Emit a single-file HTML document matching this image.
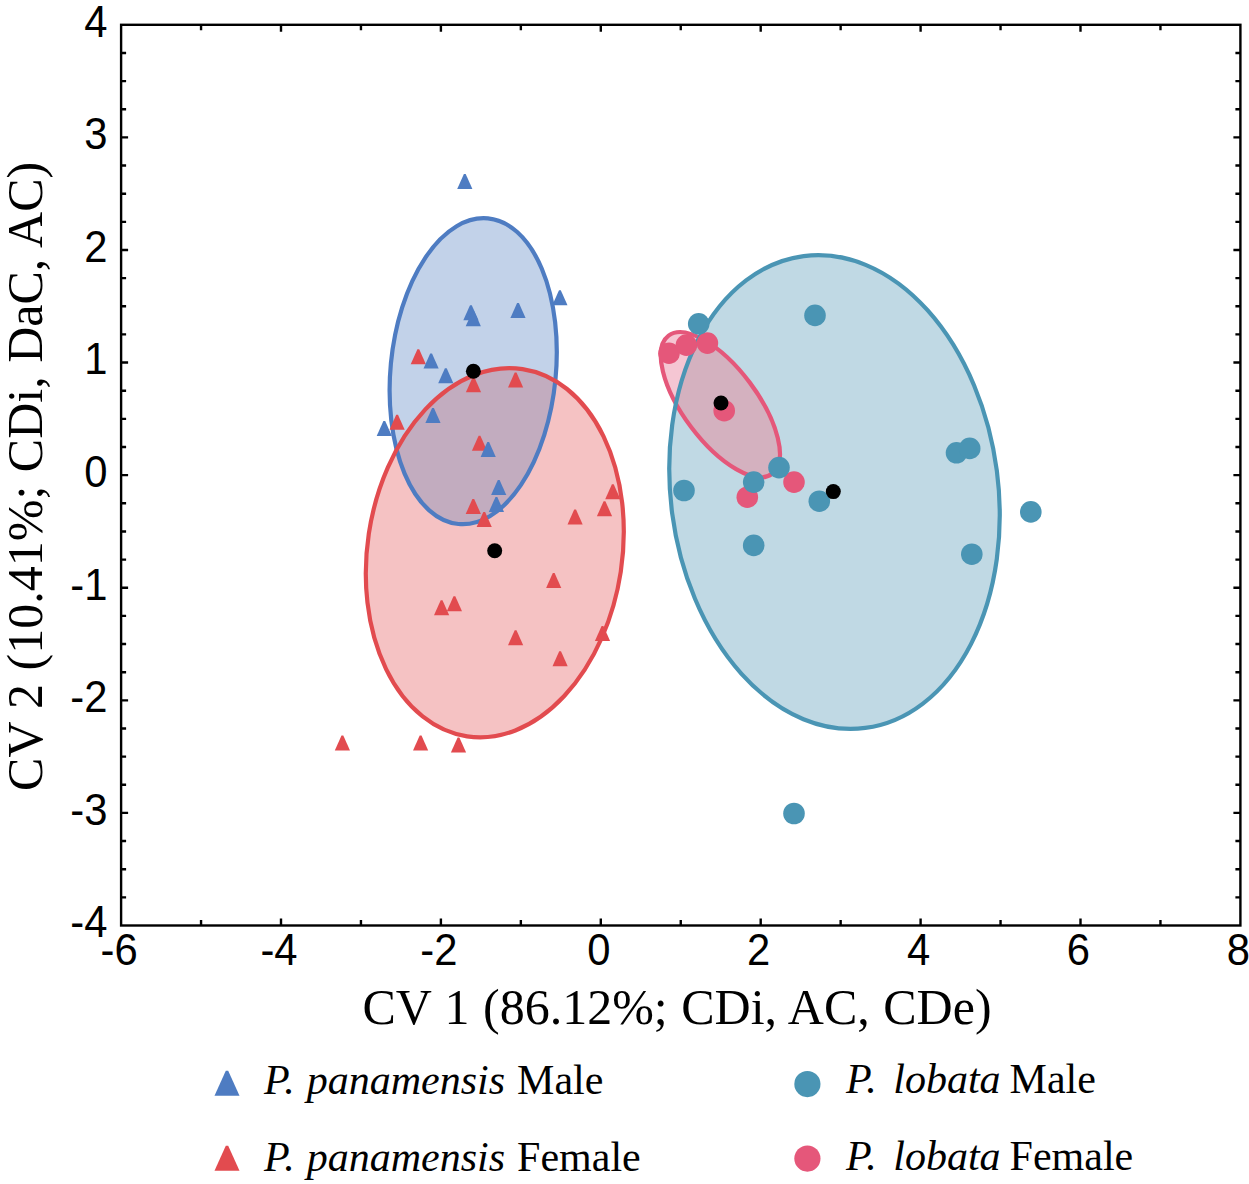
<!DOCTYPE html>
<html><head><meta charset="utf-8"><style>
html,body{margin:0;padding:0;background:#fff;width:1249px;height:1184px;overflow:hidden}
svg{display:block}
</style></head><body>
<svg width="1249" height="1184" viewBox="0 0 1249 1184">
<rect x="121.1" y="24.8" width="1119.3" height="900.7" fill="none" stroke="#000" stroke-width="2.4"/>
<path d="M201.05 925.5V920.0M201.05 24.8V30.3M281.00 925.5V918.5M281.00 24.8V31.8M360.95 925.5V920.0M360.95 24.8V30.3M440.90 925.5V918.5M440.90 24.8V31.8M520.85 925.5V920.0M520.85 24.8V30.3M600.80 925.5V918.5M600.80 24.8V31.8M680.75 925.5V920.0M680.75 24.8V30.3M760.70 925.5V918.5M760.70 24.8V31.8M840.65 925.5V920.0M840.65 24.8V30.3M920.60 925.5V918.5M920.60 24.8V31.8M1000.55 925.5V920.0M1000.55 24.8V30.3M1080.50 925.5V918.5M1080.50 24.8V31.8M1160.45 925.5V920.0M1160.45 24.8V30.3M121.1 897.35H126.1M1240.4 897.35H1235.4M121.1 869.21H126.1M1240.4 869.21H1235.4M121.1 841.06H126.1M1240.4 841.06H1235.4M121.1 812.91H128.1M1240.4 812.91H1233.4M121.1 784.77H126.1M1240.4 784.77H1235.4M121.1 756.62H126.1M1240.4 756.62H1235.4M121.1 728.47H126.1M1240.4 728.47H1235.4M121.1 700.33H128.1M1240.4 700.33H1233.4M121.1 672.18H126.1M1240.4 672.18H1235.4M121.1 644.03H126.1M1240.4 644.03H1235.4M121.1 615.88H126.1M1240.4 615.88H1235.4M121.1 587.74H128.1M1240.4 587.74H1233.4M121.1 559.59H126.1M1240.4 559.59H1235.4M121.1 531.44H126.1M1240.4 531.44H1235.4M121.1 503.30H126.1M1240.4 503.30H1235.4M121.1 475.15H128.1M1240.4 475.15H1233.4M121.1 447.00H126.1M1240.4 447.00H1235.4M121.1 418.86H126.1M1240.4 418.86H1235.4M121.1 390.71H126.1M1240.4 390.71H1235.4M121.1 362.56H128.1M1240.4 362.56H1233.4M121.1 334.42H126.1M1240.4 334.42H1235.4M121.1 306.27H126.1M1240.4 306.27H1235.4M121.1 278.12H126.1M1240.4 278.12H1235.4M121.1 249.97H128.1M1240.4 249.97H1233.4M121.1 221.83H126.1M1240.4 221.83H1235.4M121.1 193.68H126.1M1240.4 193.68H1235.4M121.1 165.53H126.1M1240.4 165.53H1235.4M121.1 137.39H128.1M1240.4 137.39H1233.4M121.1 109.24H126.1M1240.4 109.24H1235.4M121.1 81.09H126.1M1240.4 81.09H1235.4M121.1 52.95H126.1M1240.4 52.95H1235.4" stroke="#000" stroke-width="2.4" fill="none"/>
<defs><clipPath id="cb"><ellipse cx="473.20" cy="371.20" rx="153.50" ry="82.67" transform="rotate(95.51 473.20 371.20)"/></clipPath><clipPath id="ct"><ellipse cx="834.50" cy="492.00" rx="237.95" ry="163.73" transform="rotate(82.56 834.50 492.00)"/></clipPath></defs>
<ellipse cx="494.80" cy="552.70" rx="185.70" ry="127.41" transform="rotate(98.60 494.80 552.70)" fill="#f5c2c3"/>
<ellipse cx="473.20" cy="371.20" rx="153.50" ry="82.67" transform="rotate(95.51 473.20 371.20)" fill="#c2d2e9"/>
<g clip-path="url(#cb)"><ellipse cx="494.80" cy="552.70" rx="185.70" ry="127.41" transform="rotate(98.60 494.80 552.70)" fill="#c2acbf"/></g>
<ellipse cx="720.35" cy="404.70" rx="86.30" ry="36.81" transform="rotate(53.15 720.35 404.70)" fill="#f5c6d3"/>
<ellipse cx="834.50" cy="492.00" rx="237.95" ry="163.73" transform="rotate(82.56 834.50 492.00)" fill="#c0d9e4"/>
<g clip-path="url(#ct)"><ellipse cx="720.35" cy="404.70" rx="86.30" ry="36.81" transform="rotate(53.15 720.35 404.70)" fill="#d4b1bf"/></g>
<ellipse cx="473.20" cy="371.20" rx="153.50" ry="82.67" transform="rotate(95.51 473.20 371.20)" fill="none" stroke="#4e7cc2" stroke-width="4.2"/>
<ellipse cx="494.80" cy="552.70" rx="185.70" ry="127.41" transform="rotate(98.60 494.80 552.70)" fill="none" stroke="#e24b4f" stroke-width="4.2"/>
<ellipse cx="720.35" cy="404.70" rx="86.30" ry="36.81" transform="rotate(53.15 720.35 404.70)" fill="none" stroke="#e5577a" stroke-width="4.2"/>
<ellipse cx="834.50" cy="492.00" rx="237.95" ry="163.73" transform="rotate(82.56 834.50 492.00)" fill="none" stroke="#4a95b4" stroke-width="4.2"/>
<path d="M417.4 349.2H419.2L425.9 364.2H410.7Z" fill="#e24b4f"/>
<path d="M514.7 372.5H516.5L523.2 387.5H508.0Z" fill="#e24b4f"/>
<path d="M472.6 377.2H474.4L481.1 392.2H465.9Z" fill="#e24b4f"/>
<path d="M396.2 414.7H398.0L404.7 429.7H389.5Z" fill="#e24b4f"/>
<path d="M478.6 435.8H480.4L487.1 450.8H471.9Z" fill="#e24b4f"/>
<path d="M611.9 484.3H613.7L620.4 499.3H605.2Z" fill="#e24b4f"/>
<path d="M472.4 499.0H474.2L480.9 514.0H465.7Z" fill="#e24b4f"/>
<path d="M603.6 501.2H605.4L612.1 516.2H596.9Z" fill="#e24b4f"/>
<path d="M574.2 509.6H576.0L582.7 524.6H567.5Z" fill="#e24b4f"/>
<path d="M483.3 512.0H485.1L491.8 527.0H476.6Z" fill="#e24b4f"/>
<path d="M552.8 573.0H554.6L561.3 588.0H546.1Z" fill="#e24b4f"/>
<path d="M453.5 596.2H455.3L462.0 611.2H446.8Z" fill="#e24b4f"/>
<path d="M440.7 600.2H442.5L449.2 615.2H434.0Z" fill="#e24b4f"/>
<path d="M601.6 625.9H603.4L610.1 640.9H594.9Z" fill="#e24b4f"/>
<path d="M514.7 630.2H516.5L523.2 645.2H508.0Z" fill="#e24b4f"/>
<path d="M559.2 651.2H561.0L567.7 666.2H552.5Z" fill="#e24b4f"/>
<path d="M341.5 735.4H343.3L350.0 750.4H334.8Z" fill="#e24b4f"/>
<path d="M419.7 735.4H421.5L428.2 750.4H413.0Z" fill="#e24b4f"/>
<path d="M457.6 737.5H459.4L466.1 752.5H450.9Z" fill="#e24b4f"/>
<path d="M463.9 174.1H465.7L472.4 189.1H457.2Z" fill="#4e7cc2"/>
<path d="M559.0 290.2H560.8L567.5 305.2H552.3Z" fill="#4e7cc2"/>
<path d="M517.1 303.1H518.9L525.6 318.1H510.4Z" fill="#4e7cc2"/>
<path d="M470.0 305.2H471.8L478.5 320.2H463.3Z" fill="#4e7cc2"/>
<path d="M472.4 311.2H474.2L480.9 326.2H465.7Z" fill="#4e7cc2"/>
<path d="M430.2 353.5H432.0L438.7 368.5H423.5Z" fill="#4e7cc2"/>
<path d="M444.9 368.2H446.7L453.4 383.2H438.2Z" fill="#4e7cc2"/>
<path d="M432.1 408.1H433.9L440.6 423.1H425.4Z" fill="#4e7cc2"/>
<path d="M383.4 420.9H385.2L391.9 435.9H376.7Z" fill="#4e7cc2"/>
<path d="M487.3 442.1H489.1L495.8 457.1H480.6Z" fill="#4e7cc2"/>
<path d="M497.8 480.0H499.6L506.3 495.0H491.1Z" fill="#4e7cc2"/>
<path d="M495.5 497.0H497.3L504.0 512.0H488.8Z" fill="#4e7cc2"/>
<circle cx="669.0" cy="353.2" r="10.8" fill="#e5577a"/>
<circle cx="686.4" cy="345.1" r="10.8" fill="#e5577a"/>
<circle cx="707.4" cy="343.1" r="10.8" fill="#e5577a"/>
<circle cx="724.2" cy="410.7" r="10.8" fill="#e5577a"/>
<circle cx="747.3" cy="497.2" r="10.8" fill="#e5577a"/>
<circle cx="794.0" cy="482.1" r="10.8" fill="#e5577a"/>
<circle cx="698.7" cy="323.8" r="10.8" fill="#4a95b4"/>
<circle cx="815.0" cy="315.4" r="10.8" fill="#4a95b4"/>
<circle cx="956.5" cy="452.8" r="10.8" fill="#4a95b4"/>
<circle cx="969.7" cy="448.4" r="10.8" fill="#4a95b4"/>
<circle cx="779.0" cy="467.6" r="10.8" fill="#4a95b4"/>
<circle cx="753.7" cy="482.1" r="10.8" fill="#4a95b4"/>
<circle cx="684.0" cy="490.5" r="10.8" fill="#4a95b4"/>
<circle cx="819.3" cy="501.2" r="10.8" fill="#4a95b4"/>
<circle cx="1030.8" cy="511.9" r="10.8" fill="#4a95b4"/>
<circle cx="753.7" cy="545.4" r="10.8" fill="#4a95b4"/>
<circle cx="971.8" cy="554.2" r="10.8" fill="#4a95b4"/>
<circle cx="794.0" cy="813.5" r="10.8" fill="#4a95b4"/>
<circle cx="473.4" cy="371.2" r="7.5" fill="#000"/>
<circle cx="494.7" cy="550.7" r="7.5" fill="#000"/>
<circle cx="721.0" cy="403.0" r="7.5" fill="#000"/>
<circle cx="833.3" cy="491.6" r="7.5" fill="#000"/>
<g style="font-family:&quot;Liberation Sans&quot;,sans-serif;font-size:44px" fill="#000"><text transform="translate(119.1 964.6) scale(0.95 1)" text-anchor="middle">-6</text><text transform="translate(279.0 964.6) scale(0.95 1)" text-anchor="middle">-4</text><text transform="translate(438.9 964.6) scale(0.95 1)" text-anchor="middle">-2</text><text transform="translate(598.8 964.6) scale(0.95 1)" text-anchor="middle">0</text><text transform="translate(758.7 964.6) scale(0.95 1)" text-anchor="middle">2</text><text transform="translate(918.6 964.6) scale(0.95 1)" text-anchor="middle">4</text><text transform="translate(1078.5 964.6) scale(0.95 1)" text-anchor="middle">6</text><text transform="translate(1238.4 964.6) scale(0.95 1)" text-anchor="middle">8</text><text transform="translate(107.4 937.3) scale(0.95 1)" text-anchor="end">-4</text><text transform="translate(107.4 824.7) scale(0.95 1)" text-anchor="end">-3</text><text transform="translate(107.4 712.1) scale(0.95 1)" text-anchor="end">-2</text><text transform="translate(107.4 599.5) scale(0.95 1)" text-anchor="end">-1</text><text transform="translate(107.4 486.9) scale(0.95 1)" text-anchor="end">0</text><text transform="translate(107.4 374.4) scale(0.95 1)" text-anchor="end">1</text><text transform="translate(107.4 261.8) scale(0.95 1)" text-anchor="end">2</text><text transform="translate(107.4 149.2) scale(0.95 1)" text-anchor="end">3</text><text transform="translate(107.4 36.6) scale(0.95 1)" text-anchor="end">4</text></g>
<text x="677" y="1024" text-anchor="middle" style="font-family:&quot;Liberation Serif&quot;,serif;font-size:50px;word-spacing:1px">CV 1 (86.12%; CDi, AC, CDe)</text>
<text transform="translate(42 476.4) rotate(-90)" x="0" y="0" text-anchor="middle" style="font-family:&quot;Liberation Serif&quot;,serif;font-size:50px;word-spacing:1px">CV 2 (10.41%; CDi, DaC, AC)</text>
<path d="M225.8 1070.8H228.2L239.5 1095.8H214.5Z" fill="#4e7cc2"/>
<path d="M225.8 1145.7H228.2L239.5 1170.7H214.5Z" fill="#e24b4f"/>
<circle cx="807.4" cy="1084.1" r="13.1" fill="#4a95b4"/>
<circle cx="807.4" cy="1158.6" r="13.1" fill="#e5577a"/>
<g style="font-family:&quot;Liberation Serif&quot;,serif;font-size:42px;word-spacing:1.5px" fill="#000"><text x="264" y="1093.8"><tspan font-style="italic">P. panamensis</tspan> Male</text><text x="264" y="1171"><tspan font-style="italic">P. panamensis</tspan> Female</text><text x="846" y="1093"><tspan font-style="italic">P. <tspan dx="4.5">lobata</tspan></tspan><tspan dx="-3"> Male</tspan></text><text x="846" y="1169.6"><tspan font-style="italic">P. <tspan dx="4.5">lobata</tspan></tspan><tspan dx="-3"> Female</tspan></text></g>
</svg>
</body></html>
